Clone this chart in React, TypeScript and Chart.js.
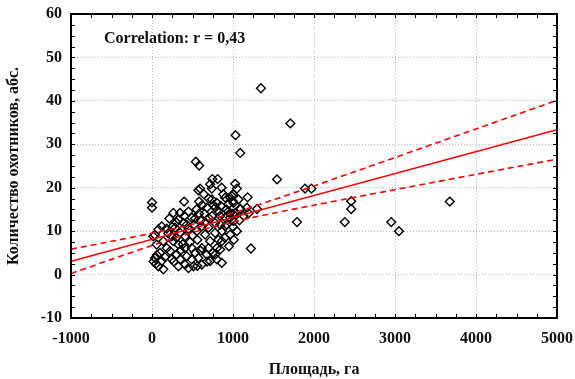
import React, { useEffect, useRef } from "react";
import { Chart, registerables } from "chart.js";

Chart.register(...registerables);

const xTicks = [-1000, 0, 1000, 2000, 3000, 4000, 5000];
const yTicks = [-10, 0, 10, 20, 30, 40, 50, 60];

const areaX = [1345, 1708, 1031, 1089, 1543, 1027, 1048, 1180, 1889, 1968, 986, 998, 1089, 1296, 1192, 998, 1790, 2459, 2459, 2380, 2954, 3049, 3676, 1221,
  0, 0, 16, 37, 37, 58, 78, 78, 99, 120, 120, 140, 140, 182, 182, 20, 50, 60,
  541, 582, 745, 810, 594, 739, 718, 573, 396, 582, 739, 801, 903, 965, 944, 1006, 1068, 677, 780, 821, 264, 347, 214, 326, 388, 491, 532, 842, 903, 965, 1027,
  285, 347, 244, 408, 615, 697, 553, 656, 780, 842, 903, 780, 862, 718, 862, 801, 264, 326, 223, 305, 244, 347, 408, 491, 429, 532, 491, 573, 326, 408, 511, 615, 718, 801, 862, 677, 780, 842, 615, 697, 965, 1048, 924, 1006, 965, 1089, 1172,
  450, 500, 470, 560, 600, 650, 700, 620, 550, 450, 400, 300, 250, 200, 380, 430, 520, 580, 660, 740, 760, 850, 880, 920, 700, 640, 860, 1000, 900, 950, 750, 680, 560, 450, 270, 160, 300, 350, 600, 1000, 1080, 1130, 820, 940, 1010];
const hunters = [42.9, 34.8, 32.1, 28.0, 21.9, 20.9, 19.8, 17.8, 19.8, 19.8, 18.1, 16.9, 15.2, 15.1, 14.1, 14.0, 12.1, 16.9, 15.1, 12.1, 12.1, 10.0, 16.8, 6.0,
  16.6, 15.4, 8.8, 9.1, 3.8, 6.9, 1.9, 10.4, 5.0, 3.1, 11.1, 7.7, 1.2, 6.1, 10.6, 3.0, 2.5, 4.5,
  26.0, 25.1, 22.0, 22.0, 19.8, 19.8, 20.8, 19.4, 16.8, 16.8, 17.3, 16.5, 17.7, 17.7, 16.2, 16.5, 17.3, 15.4, 15.4, 14.6, 14.2, 14.2, 12.9, 12.7, 11.9, 13.1, 12.9, 13.5, 13.1, 14.2, 14.2,
  10.8, 9.6, 8.8, 8.8, 11.1, 10.8, 10.0, 9.2, 11.9, 11.5, 11.1, 9.6, 10.0, 7.7, 7.7, 6.1, 7.7, 6.9, 5.4, 4.6, 3.5, 3.5, 6.1, 6.1, 4.2, 5.0, 3.5, 3.8, 1.9, 2.3, 1.9, 2.3, 3.1, 3.5, 2.7, 4.6, 4.6, 5.8, 6.1, 6.1, 9.2, 10.0, 11.5, 12.3, 13.1, 15.0, 15.4,
  10.5, 9.0, 7.5, 8.0, 12.5, 14.0, 13.0, 16.0, 15.0, 14.5, 13.5, 12.0, 11.0, 9.5, 7.0, 11.5, 11.5, 14.0, 12.0, 13.5, 16.0, 15.8, 18.5, 15.0, 17.5, 18.5, 20.0, 18.5, 8.5, 6.5, 5.0, 3.0, 2.0, 1.5, 3.0, 4.0, 8.5, 5.5, 5.5, 11.0, 12.5, 13.5, 8.0, 14.5, 8.0];

const fitX = [-1000, 5000];
const fitY = [3.05, 33.35];
const bandX = [-1000, -500, 0, 500, 1000, 1500, 2000, 2500, 3000, 3500, 4000, 4500, 5000];
const bandUpper = [5.85, 7.66, 9.51, 11.58, 14.16, 17.22, 20.42, 23.68, 26.95, 30.24, 33.53, 36.83, 40.13];
const bandLower = [0.25, 3.5, 6.69, 9.68, 12.14, 14.14, 15.98, 17.78, 19.55, 21.32, 23.07, 24.83, 26.57];

const FONT = "'Liberation Serif', 'Times New Roman', serif";
const TEXT = "#111";

const framePlugin = {
  id: "frame",
  afterDraw(chart: any) {
    const { ctx, chartArea: a, scales } = chart;
    const xs = scales.x, ys = scales.y;
    ctx.save();
    ctx.strokeStyle = "#000";
    ctx.lineWidth = 1;
    ctx.beginPath();
    for (let v = -1000; v <= 5000; v += 250) {
      const px = Math.round(xs.getPixelForValue(v)) + 0.5;
      ctx.moveTo(px, a.bottom); ctx.lineTo(px, a.bottom - 4);
      ctx.moveTo(px, a.top); ctx.lineTo(px, a.top + 4);
    }
    for (let v = -10; v <= 60; v += 2.5) {
      const py = Math.round(ys.getPixelForValue(v)) + 0.5;
      ctx.moveTo(a.left, py); ctx.lineTo(a.left + 4, py);
      ctx.moveTo(a.right, py); ctx.lineTo(a.right - 4, py);
    }
    ctx.stroke();
    ctx.lineWidth = 2;
    ctx.strokeRect(a.left, a.top, a.right - a.left, a.bottom - a.top);
    ctx.fillStyle = TEXT;
    ctx.font = `bold 16px ${FONT}`;
    ctx.textAlign = "left";
    ctx.textBaseline = "middle";
    ctx.fillText("Correlation: r = 0,43", a.left + 33, 39);
    ctx.restore();
  },
};

export default function App() {
  const ref = useRef<HTMLCanvasElement>(null);
  useEffect(() => {
    document.body.style.margin = "0";
    const pts = areaX.map((x, i) => ({ x, y: hunters[i] }));
    const red = "rgb(255,0,0)";
    const chart = new Chart(ref.current!, {
      type: "scatter",
      data: {
        datasets: [
          {
            data: fitX.map((x, i) => ({ x, y: fitY[i] })),
            showLine: true, borderColor: red, borderWidth: 1.6, pointRadius: 0,
          },
          {
            data: bandX.map((x, i) => ({ x, y: bandUpper[i] })),
            showLine: true, borderColor: red, borderWidth: 1.6, borderDash: [6, 4], pointRadius: 0, tension: 0.3,
          },
          {
            data: bandX.map((x, i) => ({ x, y: bandLower[i] })),
            showLine: true, borderColor: red, borderWidth: 1.6, borderDash: [6, 4], pointRadius: 0, tension: 0.3,
          },
          {
            data: pts,
            pointStyle: "rectRot", pointRadius: 4.4, borderColor: "#000", borderWidth: 1.4,
            backgroundColor: "rgba(0,0,0,0)",
          },
        ] as any,
      },
      options: {
        animation: false,
        responsive: false,
        devicePixelRatio: 1,
        layout: { padding: { left: 0, top: 14, right: 18, bottom: 0 } },
        plugins: { legend: { display: false }, tooltip: { enabled: false } },
        scales: {
          x: {
            type: "linear", min: -1000, max: 5000,
            afterBuildTicks: (s: any) => { s.ticks = xTicks.map((v) => ({ value: v })); },
            afterFit: (s: any) => { s.height = 61; s.paddingLeft = 0; s.paddingRight = 0; },
            ticks: {
              autoSkip: false, maxRotation: 0, padding: 11, color: TEXT,
              font: { family: FONT, size: 16, weight: "bold" },
              callback: (v: any) => String(v),
            },
            grid: { color: "#b8b8b8", lineWidth: 1, drawTicks: false },
            border: { display: false, dash: [1, 2] },
            title: { display: true, text: "Площадь, га", color: TEXT, font: { family: FONT, size: 16, weight: "bold" }, padding: { top: 0, bottom: 0 } },
          },
          y: {
            type: "linear", min: -10, max: 60,
            afterBuildTicks: (s: any) => { s.ticks = yTicks.map((v) => ({ value: v })); },
            afterFit: (s: any) => { s.width = 71; s.paddingTop = 0; s.paddingBottom = 0; },
            ticks: {
              autoSkip: false, padding: 9, color: TEXT,
              font: { family: FONT, size: 16, weight: "bold" },
              callback: (v: any) => String(v),
            },
            grid: { color: "#b8b8b8", lineWidth: 1, drawTicks: false },
            border: { display: false, dash: [1, 2] },
            title: { display: true, text: "Количество охотников, абс.", color: TEXT, font: { family: FONT, size: 16, weight: "bold" }, padding: { top: 4, bottom: 0 } },
          },
        },
      } as any,
      plugins: [framePlugin],
    });
    return () => chart.destroy();
  }, []);
  return (
    <div style={{ width: 575, height: 379 }}>
      <canvas ref={ref} width={575} height={379} style={{ display: "block" }} />
    </div>
  );
}
